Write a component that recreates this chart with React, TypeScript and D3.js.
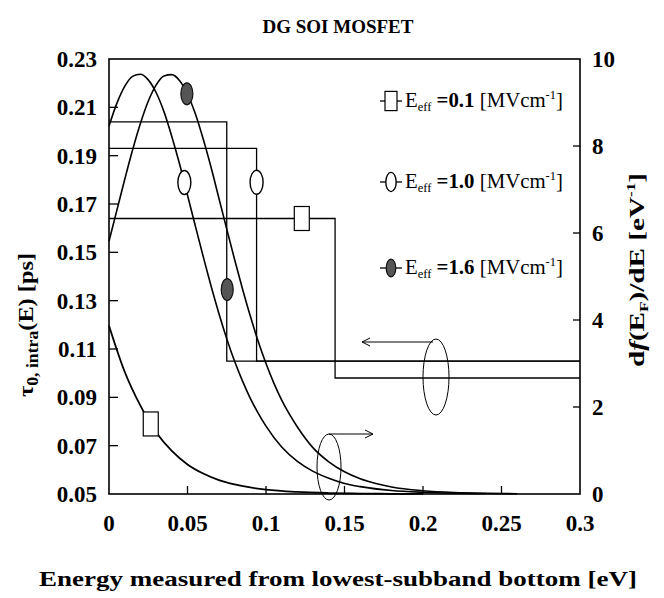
import React from "react";
import * as d3 from "d3";

const W = 664;
const H = 598;
const FONT = "'Liberation Serif', 'Times New Roman', serif";

// Plot frame in pixels
const left = 109;
const right = 580;
const top = 59;
const bottom = 494;

// Axis ticks
const xTicks = [0, 0.05, 0.1, 0.15, 0.2, 0.25, 0.3];
const xTickLabels = ["0", "0.05", "0.1", "0.15", "0.2", "0.25", "0.3"];
const tauTicks = [0.05, 0.07, 0.09, 0.11, 0.13, 0.15, 0.17, 0.19, 0.21, 0.23];
const tauTickLabels = ["0.05", "0.07", "0.09", "0.11", "0.13", "0.15", "0.17", "0.19", "0.21", "0.23"];
const dfTicks = [0, 2, 4, 6, 8, 10];
const dfTickLabels = ["0", "2", "4", "6", "8", "10"];

// Intra-subband relaxation time (left axis), step profiles [E, tau]
const tauEff01: [number, number][] = [[0, 0.164], [0.144, 0.098], [0.3, 0.098]];
const tauEff10: [number, number][] = [[0, 0.193], [0.094, 0.105], [0.3, 0.105]];
const tauEff16: [number, number][] = [[0, 0.204], [0.075, 0.105], [0.3, 0.105]];

// df(E_F)/dE (right axis)
const energyEff01 = [0, 0.01, 0.02, 0.03, 0.04, 0.05, 0.06, 0.07, 0.08, 0.09, 0.1, 0.12, 0.14, 0.16, 0.18, 0.2];
const dfEff01 = [3.87, 2.81, 2.03, 1.42, 0.99, 0.68, 0.47, 0.32, 0.22, 0.15, 0.1, 0.047, 0.022, 0.01, 0.005, 0.002];

const energyEff10 = [0, 0.005, 0.01, 0.015, 0.02, 0.025, 0.03, 0.035, 0.04, 0.045, 0.05, 0.055, 0.06, 0.065, 0.07, 0.075, 0.08, 0.085, 0.09, 0.095, 0.1, 0.11, 0.12, 0.13, 0.14, 0.15, 0.16, 0.18, 0.2, 0.22, 0.24];
const dfEff10 = [8.46, 8.98, 9.37, 9.6, 9.65, 9.52, 9.23, 8.79, 8.22, 7.58, 6.87, 6.16, 5.46, 4.78, 4.15, 3.57, 3.05, 2.6, 2.2, 1.86, 1.56, 1.08, 0.75, 0.52, 0.36, 0.24, 0.17, 0.08, 0.04, 0.02, 0.01];

const energyEff16 = [0, 0.005, 0.01, 0.015, 0.02, 0.025, 0.03, 0.035, 0.04, 0.045, 0.05, 0.055, 0.06, 0.065, 0.07, 0.075, 0.08, 0.085, 0.09, 0.095, 0.1, 0.105, 0.11, 0.115, 0.12, 0.13, 0.14, 0.15, 0.16, 0.17, 0.18, 0.2, 0.22, 0.24, 0.26];
const dfEff16 = [5.81, 6.52, 7.23, 7.91, 8.52, 9.03, 9.4, 9.61, 9.64, 9.5, 9.19, 8.74, 8.16, 7.51, 6.8, 6.09, 5.39, 4.72, 4.09, 3.51, 3.0, 2.55, 2.16, 1.83, 1.54, 1.06, 0.74, 0.51, 0.35, 0.24, 0.16, 0.075, 0.034, 0.016, 0.007];

// Series markers: [E, value, axis]
type Mark = { e: number; v: number; axis: "tau" | "df" };
const marksEff01: Mark[] = [{ e: 0.1228, v: 0.164, axis: "tau" }, { e: 0.0266, v: 1.61, axis: "df" }];
const marksEff10: Mark[] = [{ e: 0.048, v: 7.16, axis: "df" }, { e: 0.094, v: 0.179, axis: "tau" }];
const marksEff16: Mark[] = [{ e: 0.0496, v: 9.2, axis: "df" }, { e: 0.0753, v: 0.1346, axis: "tau" }];

const legendValues = ["0.1", "1.0", "1.6"];

const x = d3.scaleLinear().domain([0, 0.3]).range([left, right]);
const yTau = d3.scaleLinear().domain([0.05, 0.23]).range([bottom, top]);
const yDf = d3.scaleLinear().domain([0, 10]).range([bottom, top]);

const stepLine = d3
  .line<[number, number]>()
  .x((d) => x(d[0]))
  .y((d) => yTau(d[1]))
  .curve(d3.curveStepAfter);

const dfLine = (es: number[], vs: number[]) =>
  d3
    .line<number>()
    .x((_, i) => x(es[i]))
    .y((v) => yDf(v))
    .curve(d3.curveMonotoneX)(vs) as string;

function Marker({ kind, cx, cy, scale = 1 }: { kind: number; cx: number; cy: number; scale?: number }) {
  if (kind === 0) {
    const w = 15 * scale;
    const h = 24 * scale;
    return <rect x={cx - w / 2} y={cy - h / 2} width={w} height={h} fill="#fff" stroke="#000" strokeWidth={1.2} />;
  }
  if (kind === 1) {
    return <ellipse cx={cx} cy={cy} rx={6.5 * scale} ry={12 * scale} fill="#fff" stroke="#000" strokeWidth={1.4} />;
  }
  return <ellipse cx={cx} cy={cy} rx={6 * scale} ry={11 * scale} fill="#555" stroke="#111" strokeWidth={1.2} />;
}

export default function App() {
  const markSets = [marksEff01, marksEff10, marksEff16];
  const legendY = [101, 182, 268];
  return (
    <svg
      width={W}
      height={H}
      viewBox={`0 0 ${W} ${H}`}
      style={{ display: "block", background: "#fff", position: "absolute", left: 0, top: 0 }}
      fontFamily={FONT}
    >
      <text x={338} y={33} textAnchor="middle" fontSize={19} fontWeight="bold">
        DG SOI MOSFET
      </text>

      {/* step profiles of tau */}
      {[tauEff01, tauEff10, tauEff16].map((s, i) => (
        <path key={"s" + i} d={stepLine(s) as string} fill="none" stroke="#000" strokeWidth={1.3} />
      ))}

      {/* df/dE curves */}
      <path d={dfLine(energyEff01, dfEff01)} fill="none" stroke="#000" strokeWidth={1.8} />
      <path d={dfLine(energyEff10, dfEff10)} fill="none" stroke="#000" strokeWidth={1.6} />
      <path d={dfLine(energyEff16, dfEff16)} fill="none" stroke="#000" strokeWidth={1.6} />

      {/* frame */}
      <rect x={left} y={top} width={right - left} height={bottom - top} fill="none" stroke="#000" strokeWidth={1.6} />

      {/* ticks */}
      {xTicks.slice(1, -1).map((t) => (
        <line key={"xt" + t} x1={x(t)} x2={x(t)} y1={bottom} y2={bottom - 8} stroke="#000" strokeWidth={1.3} />
      ))}
      {tauTicks.slice(1, -1).map((t) => (
        <line key={"lt" + t} x1={left} x2={left + 9} y1={yTau(t)} y2={yTau(t)} stroke="#000" strokeWidth={1.3} />
      ))}
      {dfTicks.slice(1, -1).map((t) => (
        <line key={"rt" + t} x1={right} x2={right - 7} y1={yDf(t)} y2={yDf(t)} stroke="#000" strokeWidth={1.3} />
      ))}

      {/* tick labels */}
      <g fontSize={23} fontWeight="bold">
        {xTicks.map((t, i) => (
          <text key={"xl" + t} x={x(t)} y={531} textAnchor="middle">
            {xTickLabels[i]}
          </text>
        ))}
        {tauTicks.map((t, i) => (
          <text key={"ll" + t} x={97} y={yTau(t) + 8} textAnchor="end">
            {tauTickLabels[i]}
          </text>
        ))}
        {dfTicks.map((t, i) => (
          <text key={"rl" + t} x={592} y={yDf(t) + 8} textAnchor="start">
            {dfTickLabels[i]}
          </text>
        ))}
      </g>

      {/* markers on the series */}
      {markSets.map((ms, k) =>
        ms.map((m, j) => (
          <Marker key={"m" + k + j} kind={k} cx={x(m.e)} cy={m.axis === "tau" ? yTau(m.v) : yDf(m.v)} />
        ))
      )}

      {/* annotations: ellipses with arrows pointing to the axes */}
      <g fill="none" stroke="#000" strokeWidth={1}>
        <ellipse cx={436} cy={377} rx={13} ry={38} />
        <line x1={433} y1={342} x2={362} y2={342} />
        <polyline points="370,338 362,342 370,346" />
        <ellipse cx={329} cy={467} rx={12} ry={33} />
        <line x1={329} y1={434} x2={373} y2={434} />
        <polyline points="365,430 373,434 365,438" />
      </g>

      {/* legend */}
      {legendValues.map((v, i) => (
        <g key={"lg" + i}>
          <line x1={380} x2={402} y1={legendY[i]} y2={legendY[i]} stroke="#000" strokeWidth={1.3} />
          <Marker kind={i} cx={391} cy={legendY[i]} scale={0.8} />
          <text x={405} y={legendY[i] + 6} fontSize={20} textLength={158} lengthAdjust="spacingAndGlyphs">
            E
            <tspan fontSize={12} dy={4}>
              eff
            </tspan>
            <tspan dy={-4}> </tspan>
            <tspan fontWeight="bold">={v}</tspan>
            <tspan> [MVcm</tspan>
            <tspan fontSize={12} dy={-8}>
              -1
            </tspan>
            <tspan dy={8}>]</tspan>
          </text>
        </g>
      ))}

      {/* axis titles */}
      <text x={338} y={586} textAnchor="middle" fontSize={22} fontWeight="bold" textLength={598} lengthAdjust="spacingAndGlyphs">
        Energy measured from lowest-subband bottom [eV]
      </text>
      <text transform="translate(33,325) rotate(-90)" textAnchor="middle" fontSize={22} fontWeight="bold" textLength={144} lengthAdjust="spacingAndGlyphs">
        τ
        <tspan fontSize={16} dy={5}>
          0, intra
        </tspan>
        <tspan dy={-5}>(E) [ps]</tspan>
      </text>
      <text transform="translate(644,270) rotate(-90)" textAnchor="middle" fontSize={22} fontWeight="bold" textLength={194} lengthAdjust="spacingAndGlyphs">
        d<tspan fontStyle="italic">f</tspan>(E
        <tspan fontSize={13} dy={4}>
          F
        </tspan>
        <tspan dy={-4}>)/dE [eV</tspan>
        <tspan fontSize={13} dy={-9}>
          -1
        </tspan>
        <tspan dy={9}>]</tspan>
      </text>
    </svg>
  );
}
